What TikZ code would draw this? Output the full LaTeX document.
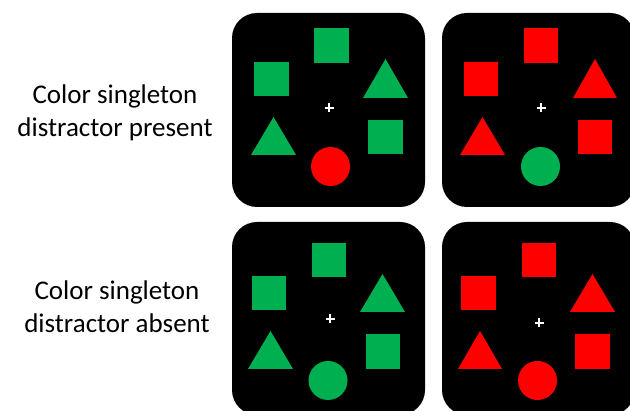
\documentclass[tikz,border=0pt]{standalone}
\usepackage{fontspec}
\setmainfont{Carlito}
\definecolor{grn}{HTML}{00B050}
\definecolor{rd}{HTML}{FF0000}
\tikzset{
  panel/.style={fill=black, rounded corners=25pt},
  plusmark/.style={draw=white, line width=1.2pt},
  lbl/.style={font=\fontsize{27}{33}\selectfont, anchor=base, inner sep=0pt}
}
\newcommand\mysq[3]{\fill[#1] (#2-17.25,#3-17.25) rectangle ++(34.5,34.5);}
\newcommand\mytri[5]{\fill[#1] (#2,#5) -- ({(#2+#3)/2},#4) -- (#3,#5) -- cycle;}
\newcommand\mydot[3]{\fill[#1] (#2,#3) circle[radius=19.5];}
\newcommand\myplus[2]{\draw[plusmark] (#1-4.5,#2) -- (#1+4.5,#2) (#1,#2-4.5) -- (#1,#2+4.5);}
\begin{document}
\begin{tikzpicture}[x=1pt,y=-1pt]
\clip (0,0) rectangle (630,411);
\fill[white] (0,0) rectangle (630,411);
% labels
\node[lbl] (t1a) at (115,104) {Color singleton};
\node[lbl] (t1b) at (115,137) {distractor present};
\node[lbl] (t2a) at (117,300) {Color singleton};
\node[lbl] (t2b) at (117,333) {distractor absent};
% panel 1
\fill[panel] (232,13) rectangle (425,207);
\mysq{grn}{331.5}{45.5}
\mysq{grn}{271.5}{79}
\mytri{grn}{363}{408}{59}{98}
\mytri{grn}{251}{296}{117}{155}
\mysq{grn}{385.5}{137}
\mydot{rd}{330.5}{166.5}
\myplus{329}{108}
% panel 2
\fill[panel] (442,13) rectangle (635,207);
\mysq{rd}{541}{45.5}
\mysq{rd}{481}{79}
\mytri{rd}{573}{617}{59}{98}
\mytri{rd}{460}{505}{117}{155}
\mysq{rd}{595}{137}
\mydot{grn}{540.5}{166.5}
\myplus{541}{108}
% panel 3
\fill[panel] (232,222) rectangle (425,415);
\mysq{grn}{329}{260}
\mysq{grn}{269}{293}
\mytri{grn}{360}{405}{274}{312}
\mytri{grn}{248}{293}{331}{369}
\mysq{grn}{383}{351.5}
\mydot{grn}{328}{380.5}
\myplus{330}{319}
% panel 4
\fill[panel] (442,222) rectangle (635,415);
\mysq{rd}{539}{260}
\mysq{rd}{478.5}{293}
\mytri{rd}{570}{615}{274}{312}
\mytri{rd}{458}{502}{331}{369}
\mysq{rd}{592.5}{351.5}
\mydot{rd}{537.5}{380.5}
\myplus{539}{323}
\end{tikzpicture}
\end{document}
